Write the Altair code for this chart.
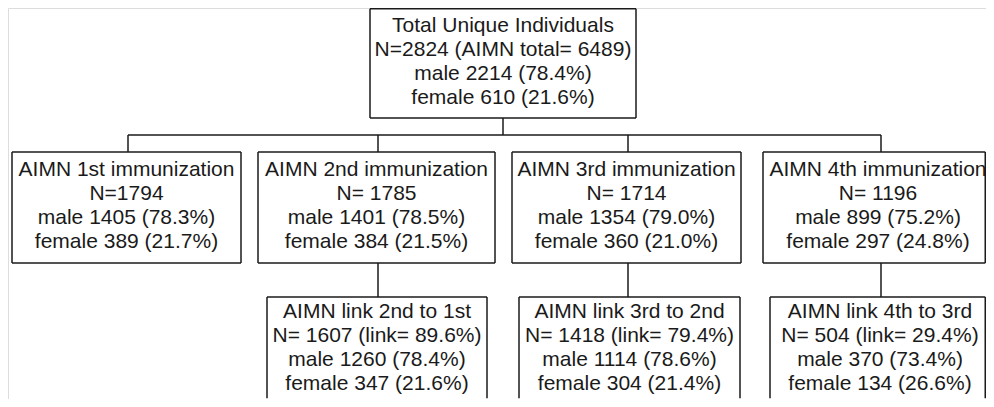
import altair as alt
import pandas as pd

# ---- content (text of each box) ----
titles = [
    "Total Unique Individuals",
    "AIMN 1st immunization",
    "AIMN 2nd immunization",
    "AIMN 3rd immunization",
    "AIMN 4th immunization",
    "AIMN link 2nd to 1st",
    "AIMN link 3rd to 2nd",
    "AIMN link 4th to 3rd",
]
n_lines = [
    "N=2824 (AIMN total= 6489)",
    "N=1794",
    "N= 1785",
    "N= 1714",
    "N= 1196",
    "N= 1607 (link= 89.6%)",
    "N= 1418 (link= 79.4%)",
    "N= 504 (link= 29.4%)",
]
male_lines = [
    "male 2214 (78.4%)",
    "male 1405 (78.3%)",
    "male 1401 (78.5%)",
    "male 1354 (79.0%)",
    "male 899 (75.2%)",
    "male 1260 (78.4%)",
    "male 1114 (78.6%)",
    "male 370 (73.4%)",
]
female_lines = [
    "female 610 (21.6%)",
    "female 389 (21.7%)",
    "female 384 (21.5%)",
    "female 360 (21.0%)",
    "female 297 (24.8%)",
    "female 347 (21.6%)",
    "female 304 (21.4%)",
    "female 134 (26.6%)",
]

# ---- layout (page pixel coordinates) ----
box_left = [370, 12, 258, 512, 763, 267, 519, 770]
box_right = [636, 241, 495, 741, 993, 487, 740, 990]
box_cx = [503, 126.5, 376.5, 626.5, 878, 377, 629.5, 880]
box_top = [6, 152, 152, 152, 152, 297, 297, 297]
box_bottom = [118, 263, 263, 263, 263, 407, 407, 407]
box_closed = [True, True, True, True, True, False, False, False]
first_baseline = [31.5, 175.5, 175.5, 175.5, 175.5, 317.5, 317.5, 317.5]
line_gap = [24.3, 24, 24, 24, 24, 24, 24, 24]

XMIN, XMAX = 8, 986
YMIN, YMAX = 8, 399


def cx(v):
    return min(max(v, XMIN + 0.75), XMAX - 0.75)


def cy(v):
    return min(max(v, YMIN + 0.75), YMAX - 0.75)


segs = []
for i in range(len(titles)):
    l, r, t, b = box_left[i], box_right[i], box_top[i], box_bottom[i]
    segs.append((l, t, r, t))
    segs.append((l, t, l, b))
    segs.append((r, t, r, b))
    if box_closed[i]:
        segs.append((l, b, r, b))

# connectors
segs.append((503, 118, 503, 135))
segs.append((128, 135, 881, 135))
for dx in [128, 378, 628, 881]:
    segs.append((dx, 135, dx, 152))
for dx in [378, 628, 881]:
    segs.append((dx, 263, dx, 297))

seg_df = pd.DataFrame(
    [(cx(a), cy(b), cx(c), cy(d)) for a, b, c, d in segs],
    columns=["x", "y", "x2", "y2"],
)

rows = []
for i in range(len(titles)):
    for k, txt in enumerate([titles[i], n_lines[i], male_lines[i], female_lines[i]]):
        rows.append({
            "x": box_cx[i],
            "y": first_baseline[i] + line_gap[i] * k,
            "text": txt,
        })
text_df = pd.DataFrame(rows)

xs = alt.Scale(domain=[XMIN, XMAX], nice=False, zero=False)
ys = alt.Scale(domain=[YMIN, YMAX], nice=False, zero=False, reverse=True)

lines = alt.Chart(seg_df).mark_rule(color="#1a1a1a", strokeWidth=1.5).encode(
    x=alt.X("x:Q", scale=xs, axis=None),
    y=alt.Y("y:Q", scale=ys, axis=None),
    x2="x2:Q",
    y2="y2:Q",
)

labels = alt.Chart(text_df).mark_text(
    font="Liberation Sans",
    fontSize=21,
    color="#1a1a1a",
    align="center",
    baseline="alphabetic",
).encode(
    x=alt.X("x:Q", scale=xs, axis=None),
    y=alt.Y("y:Q", scale=ys, axis=None),
    text="text:N",
)

chart = (
    alt.layer(lines, labels)
    .properties(width=XMAX - XMIN, height=YMAX - YMIN, padding=0, autosize="none")
    .configure_view(strokeWidth=0)
    .configure(background="white")
)

chart.save("out.html", embed_options={"renderer": "svg", "actions": False})
